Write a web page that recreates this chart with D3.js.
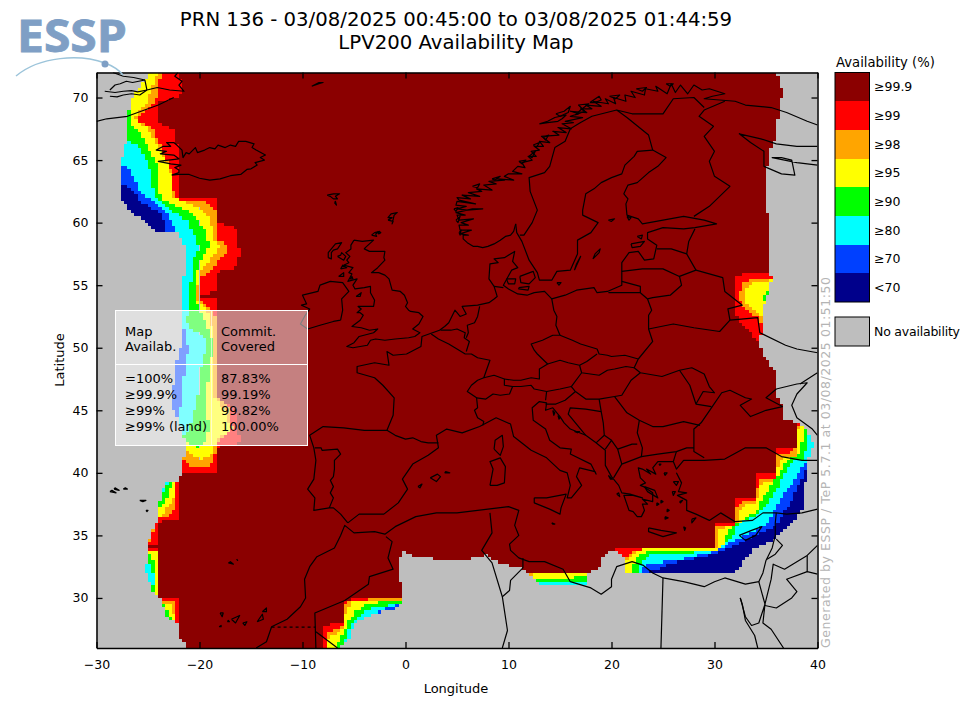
<!DOCTYPE html>
<html lang="en">

<head>
    <meta charset="UTF-8">
    <script src="https://d3js.org/d3.v7.min.js"></script>
    <title>LPV200 Availability Map</title>
    <style>
        html, body { margin: 0; padding: 0; background: #fff; }
        svg { display: block; font-family: "DejaVu Sans", Verdana, sans-serif; }
    </style>
</head>

<body>
    <svg class="map"></svg>
    <script>
        var lonTicks = [-30, -20, -10, 0, 10, 20, 30, 40];
        var latTicks = [30, 35, 40, 45, 50, 55, 60, 65, 70];
        var legendLabels = ["≥99.9", "≥99", "≥98", "≥95", "≥90", "≥80", "≥70", "<70"];
        var legendColors = ["#8b0000", "#ff0000", "#ffa500", "#ffff00", "#00ff00", "#00ffff", "#0040ff", "#00008b"];
        var panelRows = ["=100%", "≥99.9%", "≥99%", "≥99% (land)"];
        var panelValues = ["87.83%", "99.19%", "99.82%", "100.00%"];

        function west(edge) {
            return edge.concat([[-30, edge[edge.length - 1][1]], [-30, edge[0][1]]]);
        }

        // area with any availability at all, everything else stays grey
        var coverage = [[-24.8, 72], [-26.5, 70], [-27, 68.5], [-27, 66.6], [-27.5, 65.3], [-27.8, 62.9], [-27.5, 61.8], [-26.7, 60.9], [-25.5, 60.2], [-24, 59.2], [-22.2, 59.2], [-21.4, 58.1], [-21.5, 55.7], [-21.6, 53], [-21.5, 51.2], [-22.2, 48.8], [-22.5, 46.9], [-22.5, 45], [-21.6, 43.4], [-21.4, 42.1], [-21.6, 40.5], [-21.7, 40.1], [-22.2, 39.2], [-23.3, 39.2], [-23.8, 38.1], [-24, 36.2], [-24.1, 36.1], [-24.8, 34.9], [-25.1, 34], [-25.2, 32], [-24.5, 30.6], [-23.8, 30], [-23, 28.2], [-22, 28.1], [-21.9, 26.9], [-21.2, 26], [-6.6, 26], [-5.6, 26.6], [-5.1, 27.6], [-4.6, 28.2], [-2.7, 28.8], [-1.3, 29], [-0.7, 29.4], [-0.2, 29.9], [-0.2, 30.8], [-0.6, 31.4], [-0.8, 33], [-0.1, 33.7], [1.1, 33.2], [3.3, 33.1], [6.3, 33.1], [7.9, 33.4], [8.5, 33], [10.1, 32.6], [11.3, 32.4], [12.3, 31.7], [13.1, 31.1], [17.6, 31.1], [17.7, 32.1], [18.7, 32.2], [19.1, 33.3], [20.1, 33.8], [21.3, 33.3], [21.4, 32.9], [21.4, 32], [32, 32], [33.9, 34], [35.6, 34.6], [38.5, 36.9], [39.1, 41], [39.6, 42.4], [39, 43.4], [38.1, 44.1], [36.7, 44.2], [36.6, 45.3], [36.2, 45.6], [35.9, 48.1], [34.7, 49.4], [34.4, 50.2], [34.6, 51.7], [34.7, 53.2], [35.2, 54.4], [35.6, 55.4], [35.4, 56], [35.3, 59.2], [35.1, 61.6], [35.1, 64.2], [35.4, 66], [35.9, 66.6], [36.2, 68.5], [36.6, 70.4], [36.1, 72]];

        var band99 = [
            west([[-22.1, 72], [-21.5, 70.6], [-21.5, 70.2], [-24, 69.7], [-24, 68], [-22.3, 67.4], [-22.1, 65.8], [-22.1, 61.9], [-18.2, 61.9], [-18.2, 60], [-16.4, 59.6], [-16.1, 57.6], [-16.4, 56.4], [-18.2, 56.1], [-18.2, 54.5], [-20.1, 54.2], [-20.1, 54], [-18.5, 53.9], [-18.2, 53], [-18.2, 46], [-16.4, 45], [-16.1, 42.4], [-18.2, 42.1], [-18.2, 40.1], [-21.7, 40.1]]),
            west([[-22.1, 39.2], [-22.1, 36.2], [-24.1, 36.1], [-24.1, 34.2]]),
            west([[-24.1, 33.9], [-24.1, 33.7]]),
            west([[-23.8, 29.9], [-22.1, 29.9], [-22.1, 28.2], [-22, 28]]),
            [[-7.9, 26], [-7.9, 27.8], [-6, 28], [-6, 29.6], [-5.4, 29.9], [-0.2, 30], [1, 30], [1, 26]],
            [[20, 33.7], [20.2, 33.9], [30, 33.9], [30, 35.9], [32, 35.9], [32, 37.9], [33.9, 37.9], [33.9, 39.9], [36.1, 39.9], [36.1, 41.9], [38, 41.9], [38, 44.2], [38.5, 44.2], [40, 44.2], [40, 26], [20, 26]],
            [[35.4, 55.9], [32.7, 55.9], [32.1, 55.6], [32, 53.2], [32.2, 52.4], [33, 51.6], [33.5, 51.2], [34.2, 50.4], [34.6, 49.7], [40, 49.7], [40, 55.9]]
        ];

        var band98 = [
            west([[-23.4, 72], [-24, 71.3], [-24.2, 69.8], [-26.1, 68.2], [-25.2, 67.8], [-24.5, 67.6], [-24.1, 66.6], [-22.9, 64.6], [-22.4, 61.9], [-20.2, 61.8], [-19.3, 61.7], [-18.5, 61], [-18.2, 58.6], [-17.2, 58], [-17.2, 57.7], [-18.2, 56.9], [-19, 56], [-20, 55.7], [-20.1, 54.4], [-20.1, 54], [-19.3, 53.4], [-18.7, 52.8], [-18.3, 52.2], [-18.3, 48.8], [-18.3, 46], [-17, 45], [-16.8, 43.4], [-18.2, 42.4], [-18.3, 42.1], [-18.7, 40.8], [-19.2, 40.5], [-20.9, 40.5], [-21.4, 41]]),
            west([[-22.2, 39.2], [-22.2, 38.1], [-22.3, 37], [-23.1, 36.5], [-24, 36.5]]),
            west([[-24.3, 35.7], [-24.5, 35.3], [-24.8, 34.6]]),
            west([[-24.1, 33.8], [-24.1, 33.6]]),
            west([[-23.6, 29.8], [-22.4, 29.7], [-22.2, 28.4], [-22.2, 28.1]]),
            [[-7.8, 26], [-7.8, 27], [-7.6, 27.3], [-6.8, 27.4], [-5.9, 28], [-5.9, 29.4], [-5.6, 29.8], [-3, 29.9], [1, 29.9], [1, 26]],
            [[12.1, 31.9], [12.5, 31.9], [12.5, 31], [12.1, 31]],
            [[21.3, 33.2], [22, 33.7], [23.3, 33.9], [30.1, 33.9], [30.1, 35.7], [32, 35.8], [32.2, 37.4], [33, 37.8], [34.1, 37.8], [34.2, 39.4], [35.9, 39.6], [36.1, 41.4], [37.8, 41.7], [38, 43.6], [38.3, 44], [40, 44], [40, 26], [21.3, 26]],
            [[35.4, 55.6], [33.5, 55.5], [32.8, 55.2], [32.4, 54.4], [32.5, 53.7], [33.3, 52.9], [34.2, 52.4], [34.6, 51.7], [40, 51.7], [40, 55.6]]
        ];

        var band95 = [
            west([[-24.1, 72], [-24.5, 71], [-25.1, 69.6], [-26.3, 68.5], [-26.1, 68.1], [-25, 67.6], [-24.3, 66.4], [-22.9, 64.5], [-22.6, 62], [-21.2, 61.6], [-20, 61.2], [-19, 60.4], [-18.6, 58.6], [-18, 58.2], [-19, 57], [-20, 56.1], [-20.2, 54.9], [-20.6, 54.2], [-20.2, 53.7], [-19.3, 53], [-18.8, 51.7], [-18.7, 48.8], [-18.5, 46.1], [-17.5, 45], [-17, 43.4], [-18.3, 42.6], [-18.8, 41.6], [-19.7, 41], [-20.6, 41.3], [-21.4, 41.8]]),
            west([[-22.3, 39.2], [-22.4, 38.2], [-22.9, 37.4], [-23.5, 36.8], [-24, 36.5]]),
            west([[-24.1, 33.7], [-24, 30]]),
            west([[-23.6, 29.6], [-23, 29.6], [-22.6, 29.2], [-22.4, 28.2]]),
            [[-7.7, 26], [-7.7, 26.6], [-7.3, 26.9], [-6.8, 27], [-6.1, 27.6], [-5.8, 29], [-5.2, 29.7], [-2.2, 29.8], [1, 29.8], [1, 26]],
            [[12.4, 31.9], [17.7, 31.9], [17.7, 30], [12.4, 30]],
            [[21.3, 32.8], [21.8, 33.3], [22.3, 33.6], [23.1, 33.9], [30.2, 33.9], [30.2, 35.3], [30.7, 35.6], [32.3, 35.8], [32.3, 36.9], [33, 37.4], [34.1, 37.6], [34.4, 39.1], [35.9, 39.4], [36.2, 40.6], [36.7, 41.2], [38, 41.4], [38.1, 42.6], [38.2, 44], [40, 44], [40, 26], [21.3, 26]],
            [[35.6, 55.4], [33.9, 55.2], [33, 54.5], [32.9, 53.8], [33.6, 53.3], [34.4, 52.6], [34.7, 52.1], [40, 52.1], [40, 55.4]]
        ];

        var band90 = [
            west([[-26.5, 69.2], [-26.6, 67.8], [-25.6, 67], [-24.8, 65.8], [-24.1, 64.6], [-23.8, 62], [-23.2, 61.7], [-21.2, 61], [-20.2, 60.2], [-19.3, 59.2], [-19.1, 58.1], [-19.7, 57.3], [-20.2, 56.2], [-20.4, 54.4], [-20, 52.9], [-19.2, 51.7], [-18.5, 49.8], [-19, 48.8], [-19.3, 46.1], [-19.2, 44.2], [-18.8, 44], [-19.5, 42.4], [-20.2, 42.1], [-20.9, 42.2], [-21.4, 42.6]]),
            west([[-22.5, 39.2], [-23.1, 38.2], [-23.6, 37.3], [-23.9, 37.2]]),
            west([[-25.2, 33.5], [-24.6, 33.3], [-24.2, 32.6], [-24.2, 30.6]]),
            west([[-23.5, 29.4], [-23.1, 28.9], [-22.6, 28.2]]),
            [[-6.5, 26], [-6.6, 26.4], [-5.9, 27.2], [-5.7, 28], [-4.9, 28.9], [-3.9, 29.4], [-2.2, 29.7], [-0.3, 29.8], [1, 29.8], [1, 26]],
            [[12.5, 31.6], [16.3, 31.6], [16.3, 31.76], [17.7, 31.76], [17.7, 30], [12.5, 30]],
            [[22, 32], [22, 32.6], [22.5, 33.2], [23.1, 33.6], [23.7, 33.7], [28.6, 33.8], [30.7, 33.9], [31, 34.9], [31.7, 35.6], [33.2, 36.5], [34.1, 37], [34.7, 38], [35.4, 38.8], [36.4, 40.2], [37, 41], [38.1, 41.4], [38.5, 42.4], [38.5, 43.6], [40, 43.6], [40, 26], [22, 26]],
            [[34.4, 54], [34.9, 54.4], [35.3, 54.4], [35.1, 53.8], [34.7, 53.7]]
        ];

        var band80 = [
            west([[-27, 66.6], [-26, 66.1], [-25, 64.8], [-24.3, 62.1], [-22.9, 61], [-21.2, 60.2], [-20.2, 58.6], [-20.1, 57.8], [-20.7, 56.8], [-20.9, 54.4], [-20.9, 53], [-21.3, 52.2], [-20.9, 51.4], [-19.7, 51], [-19.2, 50.1], [-19.8, 48.8], [-20.2, 46.1], [-20.6, 44.5], [-21.2, 43.2], [-21.6, 42.9]]),
            west([[-22.9, 39.2], [-23.5, 38.5], [-23.8, 38.1]]),
            west([[-25.2, 33], [-24.8, 32.6], [-24.4, 31.8], [-24.4, 30.9]]),
            [[-5.9, 26], [-5.9, 26.6], [-5.7, 27.2], [-5.1, 28.1], [-4.4, 28.6], [-3.2, 29.2], [-0.7, 29.5], [1, 29.5], [1, 26]],
            [[12.5, 31.35], [17.7, 31.35], [17.7, 30], [12.5, 30]],
            [[22.5, 32], [22.5, 32.6], [23, 33], [23.7, 33.4], [25.7, 33.4], [28.6, 33.7], [30.2, 33.8], [31, 34.4], [31.7, 34.9], [32, 35.2], [32.3, 36], [33.5, 36.4], [34.4, 36.8], [35.4, 37.8], [36.2, 38.9], [37, 40.2], [37.6, 40.9], [38.5, 41], [39, 42], [39, 43.3], [40, 43.3], [40, 26], [22.5, 26]]
        ];

        var band70 = [
            west([[-27.5, 64.6], [-26.6, 64], [-25.8, 62.4], [-24.5, 61.7], [-23.1, 60.8], [-22.2, 59.2]]),
            west([[-21.5, 51.4], [-21.1, 50.1], [-21.3, 48.6], [-21.7, 47], [-21.6, 45.8], [-21.9, 45], [-22.3, 44.2]]),
            west([[-25, 32.1], [-25, 31.6]]),
            [[-2.7, 29], [-1.3, 29.3], [-0.8, 29.5], [-0.8, 28.8], [-2.7, 28.6]],
            [[23, 32], [23.1, 32.5], [24, 32.8], [26.4, 33], [28.6, 33.4], [30.3, 33.8], [31.5, 34.4], [33, 35], [34.1, 35.4], [35.4, 36.2], [36.4, 38], [37.8, 39.4], [38.5, 40.6], [39.6, 41.2], [39.6, 42.6], [40, 42.6], [40, 26], [23, 26]]
        ];

        var bandLow = [
            west([[-27.8, 63.2], [-26.7, 62.8], [-25.8, 61.7], [-24.3, 61], [-23.3, 60.2], [-23.3, 59.2]]),
            [[23.3, 32], [26, 32.8], [28.6, 33.2], [30.2, 33.6], [32, 34.3], [34.1, 35], [36.1, 35.8], [37.6, 38], [39.1, 40.6], [40, 40.6], [40, 26], [23.3, 26]]
        ];

        var coastLines = [
            // Greenland
            [[-30, 68.1], [-29, 68.3], [-28, 68.4], [-27, 68.5], [-26, 68.8], [-25, 69.1], [-24, 69.4], [-23, 69.8], [-22.5, 70]],
            [[-22.1, 72], [-22.4, 71.7], [-21.7, 71.3], [-22, 71], [-21.5, 70.5], [-22.9, 70.6], [-24.1, 70.8], [-25.1, 70.6], [-25.8, 70.2], [-26.6, 70.3], [-27.4, 70.2], [-28, 70.05], [-28.7, 70.1]],
            [[-25.1, 70.6], [-26, 70.45], [-26.6, 70.55], [-27.4, 70.5], [-28.2, 70.4], [-29.2, 70.5]],
            [[-25.1, 70.6], [-25.3, 71.4], [-26.5, 71.2], [-27.1, 71.3], [-27.7, 71.1], [-28.2, 71], [-28.7, 70.6]],
            [[-28.4, 72], [-27.4, 71.7], [-26.4, 71.6], [-25.3, 71.4]],
            // Iceland
            [[-22.7, 63.8], [-22, 63.85], [-21, 63.85], [-20, 63.55], [-19, 63.4], [-18, 63.5], [-17, 63.75], [-16, 63.85], [-15.4, 64.25], [-15, 64.3], [-14.4, 64.6], [-14.6, 64.8], [-13.7, 65], [-14.1, 65.2], [-13.6, 65.4], [-14.5, 65.8], [-14.9, 66], [-14.7, 66.3], [-15.5, 66.5], [-16.2, 66.5], [-16.5, 66.1], [-17, 66.2], [-17.5, 66], [-18.2, 66.2], [-18.5, 65.9], [-19, 66], [-19.5, 65.8], [-20.2, 65.6], [-20.4, 66], [-21, 65.5], [-21.3, 65.6], [-21.6, 65.2], [-21.7, 65.8], [-22.2, 66.2], [-22.5, 66.4], [-23.2, 66.4], [-22.8, 66.1], [-23.5, 66.1], [-24.2, 65.8], [-23.2, 65.7], [-23.8, 65.5], [-22.5, 65.4], [-22, 65.1], [-23, 65], [-24, 64.9], [-22.8, 64.7], [-21.8, 64.6], [-22.4, 64.4], [-22, 64.2], [-22, 64], [-22.7, 63.8]],
            // small northern islands
            [[-9.1, 70.9], [-8.4, 71.1], [-8, 71.2], [-8.4, 71.2], [-9.1, 70.9]],
            [[-7.6, 62.2], [-7, 62.3], [-6.4, 62.3], [-6.8, 62.1], [-6.6, 61.9], [-7, 61.9], [-7.3, 62.1], [-7.6, 62.2]],
            [[-6.9, 61.6], [-6.7, 61.4], [-6.8, 61.7], [-6.9, 61.6]],
            [[-1.7, 60.2], [-1.2, 60.1], [-1.3, 59.9], [-1.1, 60.6], [-0.8, 60.8], [-1.4, 60.7], [-1.7, 60.4], [-1.3, 60.4], [-1.7, 60.2]],
            [[-3.3, 59], [-2.8, 58.9], [-2.9, 59.1], [-2.5, 59.3], [-3, 59.2], [-3.3, 59]],
            [[-2.7, 59.3], [-2.4, 59.2], [-2.6, 59.1], [-2.7, 59.3]],
            [[-7.5, 57.2], [-7.2, 57.1], [-7.2, 57.6], [-7, 57.8], [-6.6, 57.9], [-6.2, 58.4], [-6.8, 58.3], [-7.2, 57.9], [-7.5, 57.6], [-7.5, 57.2]],
            [[-6.6, 57.3], [-6.2, 57.1], [-6, 57], [-5.8, 57.3], [-6.2, 57.6], [-6.3, 57.4], [-6.6, 57.3]],
            [[-6.3, 56.3], [-5.7, 56.4], [-6.1, 56.6], [-6.3, 56.3]],
            [[-6.5, 55.7], [-6, 55.7], [-6, 56], [-6.5, 55.7]],
            [[-5.4, 55.5], [-5.1, 55.5], [-5.2, 55.7], [-5.4, 55.5]],
            // Britain
            [[-5, 58.6], [-4.2, 58.5], [-3.1, 58.6], [-3.9, 58], [-4, 57.9], [-3.5, 57.7], [-2.8, 57.7], [-2, 57.7], [-2.1, 57.2], [-2, 57], [-2.7, 56.4], [-3.3, 56], [-2.6, 56], [-2, 55.8], [-1.6, 55.5], [-1.5, 55.2], [-1.3, 54.6], [-0.5, 54.5], [-0.1, 54.2], [0.2, 53.6], [0, 53.3], [0.3, 53], [0.5, 52.9], [1.3, 52.8], [1.7, 52.5], [1.3, 51.9], [0.7, 51.5], [1.4, 51.2], [0.9, 50.9], [0.3, 50.8], [-1, 50.7], [-2, 50.6], [-2.9, 50.7], [-3.4, 50.6], [-3.7, 50.2], [-5.1, 50], [-5.7, 50.1], [-5, 50.4], [-4.5, 50.9], [-3.1, 51.2], [-2.7, 51.5], [-3.5, 51.4], [-4.3, 51.6], [-5.2, 51.7], [-4.4, 52.2], [-4.1, 52.6], [-4.4, 52.8], [-4.7, 52.8], [-4.3, 53.1], [-4.6, 53.3], [-4.1, 53.3], [-3.1, 53.3], [-3, 53.8], [-3.4, 54.4], [-3.4, 54.9], [-4, 54.8], [-4.9, 54.7], [-5.1, 55], [-4.7, 55.5], [-5.6, 55.3], [-5.2, 55.9], [-5.5, 56], [-5.1, 56.4], [-6, 56.6], [-5.5, 56.8], [-5.7, 57], [-5.4, 57.3], [-5.8, 57.6], [-5.3, 57.9], [-5.3, 58.2], [-5, 58.6]],
            [[-4.8, 54.1], [-4.3, 54.4], [-4.4, 54.1], [-4.8, 54.1]],
            // Ireland
            [[-6.3, 52.2], [-6.1, 53], [-6.2, 53.9], [-5.5, 54.5], [-6.1, 55.2], [-7.3, 55.3], [-8.3, 55], [-8.5, 54.5], [-10, 54.2], [-9.6, 53.5], [-10.1, 53.4], [-9.3, 53.1], [-9.8, 52.5], [-10.2, 51.9], [-9.5, 51.5], [-8.3, 51.8], [-7, 52.1], [-6.3, 52.2]],
            // Atlantic, North Sea and Baltic side of the continent
            [[-5.6, 36], [-6.3, 36.7], [-7, 37.2], [-7.4, 37.2], [-8.9, 37], [-8.8, 38], [-9.5, 38.7], [-8.9, 39.5], [-8.7, 41], [-8.9, 42], [-9.3, 43], [-8, 43.7], [-6, 43.6], [-4, 43.4], [-1.8, 43.4], [-1.2, 44.6], [-1.1, 46], [-2.2, 47], [-3, 47.6], [-4.7, 48], [-4.7, 48.5], [-3, 48.8], [-1.6, 48.6], [-1.8, 49.7], [-1.2, 49.4], [0.1, 49.5], [1.5, 50.1], [1.6, 50.9], [3.3, 51.4], [3.8, 51.7], [4.2, 52], [4.8, 53], [5.3, 52.5], [5.9, 52.7], [5.5, 53.3], [7, 53.4], [8.1, 53.6], [8.6, 53.9], [8.9, 54.1], [8.6, 54.9], [8.1, 55.5], [8.2, 56.7], [9, 56.8], [8.6, 57.1], [9.6, 57.2], [10.6, 57.7], [10.4, 56.9], [10.9, 56.4], [10.3, 56.2], [9.9, 55.6], [9.5, 55], [10, 54.7], [10.9, 54.3], [11.8, 54.2], [12.5, 54.4], [13.5, 54.5], [14.2, 53.9], [15.5, 54.2], [16.6, 54.6], [18.3, 54.8], [18.6, 54.4], [19.6, 54.5], [21, 55], [21, 56], [21, 56.8], [21.7, 57.6], [22.6, 57.7], [23.2, 57], [24.1, 57.1], [24.4, 58.2], [23.5, 58.7], [23.5, 59.2], [25, 59.6], [27, 59.5], [28.1, 59.6], [30.2, 59.9], [29, 60.2], [27, 60.5], [25, 60.2], [23, 59.9], [22.6, 60.3], [21.5, 60.6], [21.4, 61.5], [21.6, 61.9], [21.2, 62.3], [21.6, 63], [22.5, 63.2], [23.6, 64], [24.5, 64.5], [25.3, 65.2], [24, 65.8], [22.5, 65.7], [22.2, 65.3], [21.3, 64.6], [21, 63.9], [20, 63.6], [19, 63.2], [18.3, 62.7], [17.5, 62.3], [17.2, 61], [17.2, 60.6], [18.7, 60], [18, 59.2], [16.7, 58.6], [16.7, 57.5], [16, 56.2], [14.7, 56.1], [14.2, 55.4], [13, 55.4], [12.8, 56], [12, 57], [11.3, 58.5], [10.8, 59.2], [10.7, 59.9]],
            // Norway and Kola, fjords included
            [[10.7, 59.9], [10.5, 59.3], [10.2, 59], [9.7, 58.9], [9.2, 58.6], [8.6, 58.3], [8, 58.1], [7.5, 58], [7, 58.1], [6.6, 58.1], [6, 58.4], [5.6, 58.7], [5.6, 59], [6.1, 59], [5.3, 59.1], [6.4, 59.4], [5.3, 59.4], [5.2, 59.8], [6.1, 59.8], [5.4, 60], [6.6, 60.3], [5.2, 60.2], [5, 60.6], [5.8, 60.6], [4.9, 60.8], [6.5, 61.1], [7.5, 61.1], [6, 61], [5, 61.1], [5.9, 61.3], [4.9, 61.4], [5, 61.7], [6.8, 61.5], [5.2, 61.8], [5, 62], [6.3, 61.9], [5.5, 62.2], [7.2, 62.1], [6.1, 62.4], [7.4, 62.5], [6.9, 62.7], [8.4, 62.6], [7.6, 63], [8.8, 63.1], [8.1, 63.3], [9.6, 63.4], [8.9, 63.5], [10.5, 63.4], [9.6, 63.7], [10, 63.9], [11.3, 63.9], [10.4, 64.1], [10.9, 64.5], [11.6, 64.4], [11.3, 64.8], [12.3, 65], [11.9, 65.3], [12.7, 65.3], [12.2, 65.7], [13, 65.8], [12.5, 66.1], [13.4, 66.1], [13, 66.5], [14, 66.4], [13.2, 66.9], [14.9, 67], [14.3, 67.3], [15.6, 67.2], [14.8, 67.6], [16.1, 67.5], [15.2, 67.9], [16.3, 68], [15.5, 68.1], [17.2, 68.4], [16, 68.5], [16.8, 68.7], [16, 68.9], [17.6, 68.8], [17, 69.1], [18.1, 69.1], [17.5, 69.4], [19, 69.3], [18.2, 69.7], [19.7, 69.5], [19.4, 69.9], [20.4, 69.5], [20.2, 70], [21.4, 69.7], [21.3, 70.2], [22.3, 70], [21.9, 70.5], [23.2, 70.2], [23.3, 70.7], [24.5, 70.5], [24.3, 70.9], [25.4, 70.3], [25.8, 71.1], [26.2, 70.4], [26.7, 71], [27.4, 70.3], [28, 71], [28.8, 70.6], [29.5, 70.7], [31, 70.3], [29.8, 70.1], [29, 69.9], [30.5, 69.8], [32, 69.7], [33, 69.4], [35.5, 69.2], [37, 68.8], [39, 68.1], [40, 67.8]],
            // Norwegian islands
            [[13, 67.9], [13.8, 68.1], [14.5, 68.4], [15.6, 68.6], [15.2, 68.3], [14.8, 68.1], [13.8, 68], [13, 67.9]],
            [[14.6, 68.7], [15.4, 68.9], [16, 69.3], [15.8, 68.8], [15, 68.5], [14.6, 68.7]],
            [[16.5, 68.6], [17.4, 68.9], [16.8, 69.4], [17.8, 69.5], [17, 69], [16.5, 68.6]],
            [[17.9, 69.6], [18.8, 70.1], [19, 69.8], [18.4, 69.6], [17.9, 69.6]],
            [[19.8, 70.1], [20.8, 70.2], [20.4, 69.9], [19.8, 70.1]],
            [[22.4, 70.7], [23.4, 70.8], [23, 70.5], [22.4, 70.7]],
            [[25.3, 71.1], [26, 71.1], [25.7, 70.9], [25.3, 71.1]],
            [[8.4, 63.5], [9.2, 63.7], [8.7, 63.4], [8.4, 63.5]],
            [[11, 64.9], [11.7, 65], [11.3, 64.7], [11, 64.9]],
            [[12, 65.3], [12.6, 65.7], [12.3, 65.2], [12, 65.3]],
            [[12.4, 66.2], [13, 66.4], [12.7, 66], [12.4, 66.2]],
            [[13.4, 66.8], [13.9, 67], [13.6, 66.6], [13.4, 66.8]],
            [[6.5, 62.9], [7.2, 63.1], [7, 62.8], [6.5, 62.9]],
            [[4.9, 60.2], [5.3, 60.5], [5.1, 60], [4.9, 60.2]],
            [[5.2, 59.2], [5.4, 59.4], [5.3, 59], [5.2, 59.2]],
            [[4.7, 61.1], [5.1, 61.2], [4.9, 60.9], [4.7, 61.1]],
            // White Sea
            [[40, 66.1], [38, 66.1], [36, 66.3], [34.5, 66.7], [32.4, 67.1], [33.5, 66.4], [34.8, 65.7], [34.8, 64.5], [36.5, 63.9], [37.8, 63.8], [37.5, 65], [36.5, 65.2], [35.6, 65.2], [38, 64.8], [40, 64.6]],
            // Mediterranean north shore
            [[-5.6, 36], [-4.5, 36.7], [-2.1, 36.7], [-0.7, 37.6], [0.2, 38.7], [-0.3, 39.5], [0.7, 40.7], [2.2, 41.4], [3.2, 42], [3, 43], [4, 43.5], [5.5, 43.2], [7.2, 43.7], [8.8, 44.4], [10.2, 43.9], [10.5, 42.9], [12.2, 41.8], [13.7, 41.2], [15, 40.2], [15.7, 40], [16, 39], [15.7, 38], [16.1, 38], [17.1, 39], [16.6, 39.7], [16.9, 40.4], [18.4, 40.1], [18.5, 39.9], [18, 40.7], [16, 41.5], [16.1, 41.9], [15, 42], [14, 42.6], [13.6, 43.5], [12.4, 44.2], [12.3, 45.2], [13, 45.7], [13.7, 45.6], [13.6, 45], [14.3, 45.2], [14.9, 44.6], [15, 44.5], [15.4, 44], [16, 43.5], [16.9, 43.2], [17.5, 43], [18.5, 42.4], [19.4, 41.8], [19.4, 40.6], [20, 39.7], [20.7, 39], [21, 38.4], [21.8, 38.3], [23, 38], [22.1, 38.2], [21.2, 38.2], [21.7, 37], [22.1, 36.9], [22.5, 36.5], [22.9, 36.5], [23.2, 37], [23, 37.5], [23.5, 37.5], [23, 37.9], [24, 37.7], [24, 38.4], [23.1, 38.9], [22.8, 39], [23.3, 39.2], [22.8, 39.6], [22.6, 40.4], [23, 40.3], [23.8, 39.9], [23.4, 40.3], [24.3, 39.9], [24, 40.4], [24.5, 40.9], [26, 40.9], [26.3, 40.3], [27, 41], [29, 41], [31, 41.1], [33, 42], [35, 42], [36.5, 41.3], [38.5, 41], [40, 41]],
            // Black Sea
            [[29, 41.2], [28, 41.7], [28, 42.5], [28, 43.5], [28.7, 44], [29.7, 45.2], [30.7, 46.4], [31.5, 46.6], [33, 46], [33.6, 45.9], [32.5, 45.4], [33.5, 44.5], [35, 45], [36.6, 45.3], [35, 46], [36, 46.7], [38, 47.1], [39, 47.2], [38, 46.3], [37.5, 45.4], [38, 44.4], [39.5, 43.5], [40, 43]],
            // Turkey south, Levant and North Africa down to the Sahara
            [[26.3, 40], [26.8, 39.2], [26.5, 38.5], [27.3, 38.4], [26.4, 38.2], [27.3, 37.8], [27.3, 37], [28.2, 36.7], [29.5, 36.2], [30.6, 36.8], [32, 36.1], [33.7, 36.2], [34.7, 36.8], [36, 36.8], [35.9, 36], [35.9, 35], [35.6, 34], [35, 33], [34.7, 32], [34.3, 31.3], [33, 31.1], [32.2, 31.3], [31, 31.6], [30, 31.3], [29, 30.9], [27, 31.3], [25, 31.6], [24, 32], [23.1, 32.6], [22, 32.9], [20.5, 32.5], [20, 31.5], [20, 30.9], [19, 30.3], [18, 30.8], [16, 31.3], [15.3, 32.3], [13.5, 32.9], [12, 32.9], [11, 33.2], [10.2, 33.8], [10.1, 34.3], [11, 35], [10.6, 35.8], [11, 37], [10, 37.3], [9, 37.2], [7, 37], [5, 36.8], [3, 36.8], [1, 36.5], [-1, 35.7], [-2, 35.1], [-3, 35.3], [-5, 35.2], [-5.9, 35.8], [-6.3, 35], [-6.9, 34], [-8.6, 33.3], [-9.3, 32.5], [-9.8, 31.5], [-9.7, 30], [-10.2, 29.3], [-11.5, 28.3], [-13, 27.7], [-13.5, 26.5], [-14.5, 26]],
            // Red Sea
            [[32.5, 30], [32.7, 29.5], [33, 28.2], [33.9, 27], [34.2, 26]],
            [[32.5, 30], [33, 28.5], [33.6, 27.8], [34.3, 28], [34.9, 29.5], [34.7, 28], [35.5, 27.5], [36.7, 26]],
            // Mediterranean islands
            [[8.2, 39], [8.9, 39], [9.6, 39.2], [9.7, 40.5], [9.2, 41.2], [8.2, 40.9], [8.5, 40.3], [8.2, 39]],
            [[8.6, 41.9], [9.2, 41.4], [9.5, 42.1], [9.4, 43], [8.7, 42.6], [8.6, 41.9]],
            [[12.5, 38], [13.7, 38], [15.6, 38.3], [15.1, 37.2], [15, 36.7], [14, 37.1], [12.5, 37.6], [12.5, 38]],
            [[23.6, 35.6], [24.8, 35.4], [26.3, 35.2], [25, 34.9], [23.6, 35.3], [23.6, 35.6]],
            [[32.4, 35], [33.6, 35.4], [34.6, 35.7], [34, 35], [33, 34.6], [32.4, 35]],
            [[2.4, 39.6], [3.1, 39.9], [3.4, 39.7], [3, 39.3], [2.4, 39.6]],
            [[3.8, 40], [4.3, 40], [3.9, 40.1], [3.8, 40]],
            [[1.2, 38.9], [1.6, 39.1], [1.4, 38.8], [1.2, 38.9]],
            [[14.2, 36], [14.5, 35.9], [14.3, 35.9], [14.2, 36]],
            [[20.5, 38.3], [20.8, 38.1], [20.7, 38.4], [20.5, 38.3]],
            [[19.7, 39.8], [20.1, 39.5], [19.9, 39.5], [19.7, 39.8]],
            [[23.2, 38.9], [24.2, 38.6], [24.5, 38], [23.5, 38.5], [23.2, 38.9]],
            [[26, 39.3], [26.5, 39.3], [26.3, 39], [26, 39.3]],
            [[25.9, 38.5], [26.2, 38.5], [26, 38.2], [25.9, 38.5]],
            [[26.6, 37.7], [26.9, 37.8], [26.7, 37.6], [26.6, 37.7]],
            [[27.8, 36.3], [28.2, 36.4], [27.8, 36], [27.8, 36.3]],
            [[27, 35.7], [27.2, 35.6], [27.1, 35.4], [27, 35.7]],
            [[25.4, 37.1], [25.6, 37], [25.4, 36.9], [25.4, 37.1]],
            [[24.8, 37.8], [25, 37.7], [24.8, 37.6], [24.8, 37.8]],
            [[25.2, 36.5], [25.5, 36.4], [25.2, 36.3], [25.2, 36.5]],
            [[24.4, 37.6], [24.6, 37.5], [24.4, 37.4], [24.4, 37.6]],
            [[25.1, 40], [25.4, 40], [25.2, 39.8], [25.1, 40]],
            [[24.6, 40.7], [24.8, 40.7], [24.7, 40.6], [24.6, 40.7]],
            [[14.3, 45], [14.5, 44.8], [14.4, 44.6], [14.3, 45]],
            [[14.8, 44.6], [15, 44.4], [14.9, 44.3], [14.8, 44.6]],
            [[16.4, 43.3], [16.9, 43.3], [16.7, 43.2], [16.4, 43.3]],
            // Baltic islands
            [[18.2, 57.1], [18.8, 57.6], [18.9, 57.9], [18.4, 57.5], [18.2, 57.1]],
            [[16.4, 56.2], [17, 57.3], [16.6, 56.7], [16.4, 56.2]],
            [[21.9, 58.3], [23.2, 58.5], [22.8, 58.1], [22, 58], [21.9, 58.3]],
            [[22.5, 58.9], [23, 59], [22.9, 58.7], [22.5, 58.9]],
            [[19.7, 60.2], [20.3, 60.3], [20, 60.1], [19.7, 60.2]],
            [[21.5, 60.5], [21.9, 60.4], [21.7, 60.2], [21.5, 60.5]],
            [[11.1, 55.7], [12.4, 56.1], [12.6, 55.6], [12, 55.1], [11.2, 55.2], [11.1, 55.7]],
            [[9.8, 55.5], [10.7, 55.5], [10.6, 55.1], [10, 55.1], [9.8, 55.5]],
            [[11, 54.8], [12, 54.9], [11.9, 54.6], [11, 54.7], [11, 54.8]],
            [[14.7, 55.2], [15.1, 55.2], [14.9, 55], [14.7, 55.2]],
            // Atlantic islands
            [[-28.7, 38.5], [-28.1, 38.4], [-28.5, 38.6], [-28.7, 38.5]],
            [[-28.3, 38.7], [-27.8, 38.6], [-28.2, 38.8], [-28.3, 38.7]],
            [[-27.4, 38.7], [-27, 38.7], [-27.2, 38.8], [-27.4, 38.7]],
            [[-25.8, 37.8], [-25.2, 37.8], [-25.5, 37.7], [-25.8, 37.8]],
            [[-25.2, 37], [-25, 37], [-25.1, 36.9], [-25.2, 37]],
            [[-17.2, 32.8], [-16.7, 32.7], [-17, 32.9], [-17.2, 32.8]],
            [[-16.4, 33.1], [-16.3, 33], [-16.4, 33.1]],
            [[-18, 28.8], [-17.8, 28.5], [-17.7, 28.8], [-18, 28.8]],
            [[-17.3, 28.1], [-17.1, 28.1], [-17.2, 28.2], [-17.3, 28.1]],
            [[-18.1, 27.7], [-17.9, 27.8], [-17.9, 27.7], [-18.1, 27.7]],
            [[-16.9, 28.3], [-16.1, 28.6], [-16.5, 28], [-16.9, 28.3]],
            [[-15.8, 28], [-15.4, 28.1], [-15.6, 27.8], [-15.8, 28]],
            [[-14.4, 28.1], [-13.9, 28.7], [-13.8, 28.3], [-14.4, 28.1]],
            [[-13.9, 28.9], [-13.5, 29.2], [-13.5, 28.9], [-13.9, 28.9]]
        ];

        var borderLines = [
            [[-1.8, 43.4], [-1, 43], [0, 42.7], [0.7, 42.8], [1.5, 42.5], [2.2, 42.4], [3.2, 42.4]],
            [[-8.8, 42], [-8.2, 42], [-8.1, 41.8], [-6.6, 41.9], [-6.3, 41.5], [-6.9, 41], [-6.9, 40.3], [-7, 39.7], [-7.3, 39.4], [-7, 38.9], [-7.3, 38.4], [-7, 38], [-7.4, 37.2]],
            [[2.5, 51.1], [3.2, 50.7], [4.2, 50.3], [4.8, 50], [5.4, 49.7], [5.8, 49.5], [6.4, 49.5], [7, 49.2], [8.2, 49], [7.6, 47.6], [7, 47.4], [6.4, 47], [6, 46.5], [6.9, 46], [7, 45.2], [6.7, 45], [7, 44.4], [7.6, 44.1], [7.5, 43.8]],
            [[3.4, 51.4], [4.4, 51.4], [5, 51.5], [5.8, 51.2], [5.7, 50.8], [6.2, 50.5], [5.9, 49.7]],
            [[7.2, 53.3], [7, 52.5], [6.7, 52], [6, 51.8], [6.1, 51.2], [5.9, 50.8]],
            [[8.6, 54.9], [9.5, 54.8]],
            [[14.2, 53.9], [14.4, 53], [14.7, 52.5], [14.6, 51.8], [15, 51], [14.3, 51], [13.3, 50.6], [12.2, 50.3], [12.5, 49.8], [12.8, 49.5], [13.8, 48.7], [13, 48.3], [13, 47.5], [12.2, 47.6], [11.2, 47.4], [10.5, 47.4], [9.6, 47.5]],
            [[7.6, 47.6], [8.6, 47.8], [9.6, 47.5], [9.6, 47], [10.4, 46.9], [10.1, 46.3], [9.2, 46.2], [8.5, 46.3], [7.8, 45.9], [6.9, 46]],
            [[10.4, 46.9], [11.2, 46.9], [12.2, 47], [12.5, 46.7], [13.7, 46.5], [13.6, 45.8]],
            [[15, 51], [16.2, 50.6], [17, 50.3], [18.6, 49.9], [18.8, 49.5], [19.6, 49.4], [20, 49.3], [21.3, 49.4], [22.6, 49.1]],
            [[13.8, 48.7], [15, 49], [15.8, 48.8], [16.9, 48.6], [17.6, 48.9], [18.6, 49.5]],
            [[16.9, 48.6], [17.1, 48], [18.8, 47.8], [19.6, 48.2], [20.3, 48.3], [21.4, 48.5], [22.2, 48.4]],
            [[17.1, 48], [16.1, 46.9], [16.5, 46.5], [15.5, 45.8], [14.6, 45.5], [13.6, 45.5]],
            [[16.1, 46.9], [15, 46.7], [13.7, 46.5]],
            [[16.5, 46.5], [17.5, 45.9], [18.8, 45.9], [20.3, 46.1], [21, 46.2], [21.9, 47.4], [22.8, 48]],
            [[22.6, 49.1], [24, 50.5], [23.6, 51.5], [23.6, 52.6], [23.9, 53], [23.5, 53.9], [22.8, 54.4], [19.7, 54.4]],
            [[22.6, 49.1], [22.2, 48.4], [22.8, 48], [24.9, 47.7], [26.6, 48.2], [27.8, 48.4], [29, 47.9], [29.5, 46.9], [30, 46.4], [28.9, 46.5], [28.2, 45.5], [27.6, 47], [26.6, 48.2]],
            [[28.2, 45.5], [29.7, 45.3]],
            [[20.3, 46.1], [21.5, 44.8], [22.7, 44.2], [24, 43.7], [25, 43.7], [27, 44.1], [28.6, 43.8]],
            [[22.7, 44.2], [22.5, 43.2], [23, 42], [22.9, 41.3], [24.5, 41.5], [26.3, 41.7], [27.3, 42], [28, 42]],
            [[26.3, 41.7], [26, 40.9]],
            [[20.2, 39.6], [21, 40.7], [22.9, 41.3]],
            [[19.4, 41.9], [20, 42.6], [20.6, 41.9], [21, 40.7]],
            [[20.6, 41.9], [22, 42.3], [22.5, 42.3]],
            [[18.5, 42.4], [19.3, 43], [19.2, 44], [19, 44.9], [17.5, 45.1], [16, 45.2], [15.8, 44.7], [16.7, 43.8], [17.5, 43]],
            [[19.3, 43], [20, 42.6]],
            [[19, 44.9], [18.8, 45.9]],
            [[24.4, 57.9], [25.8, 57.9], [27.3, 57.5]],
            [[21, 56.1], [23, 56.3], [25, 56.3], [26.6, 55.7]],
            [[28.1, 59.5], [27.5, 58.5], [27.3, 57.5], [28.2, 56.2], [26.6, 55.7], [26.8, 55], [25.7, 54.2], [24, 54], [23.5, 53.9]],
            [[22.8, 54.4], [22.8, 54.9], [21, 55.3]],
            [[23.6, 51.5], [26, 51.9], [28, 51.6], [30.5, 51.3], [31.5, 52.2], [34.2, 52.4], [34.4, 51.2], [36.9, 50.2], [38, 49.9], [40, 49.6]],
            [[28.2, 56.2], [30.8, 55.6], [31, 54.5], [32.7, 53.4], [31.3, 53.1], [31.5, 52.2]],
            [[40, 48], [39.8, 47.9], [38.3, 47.1]],
            [[28, 60.5], [29.5, 61.3], [31.5, 62.9], [30, 63.7], [29.5, 64.9], [30, 65.7], [29, 66.9], [29.9, 67.7], [28.5, 68.5], [29, 69], [31, 69.7]],
            [[24, 65.8], [23.6, 67], [21.5, 68.4], [20.5, 69], [22, 68.7], [25, 68.7], [26, 69.9], [28, 70], [29, 69.2]],
            [[20.5, 69], [18.1, 68.5], [17, 68], [16, 67.5], [15.5, 66.5], [14.5, 66], [14, 64.5], [13.5, 64], [12, 63.6], [12.1, 62.5], [12.8, 61], [12.3, 60], [11.5, 59], [11.1, 59]],
            [[-1.9, 34.9], [-1.3, 34.5], [-1.7, 33.2], [-1.2, 32.3], [-3.5, 31.7], [-3.6, 31.1], [-5.9, 29.8], [-8.8, 28.8], [-8.7, 26]],
            [[-8.7, 27.3], [-6.6, 26]],
            [[8.2, 36.8], [8.4, 35.2], [7.4, 33.8], [8.4, 32.8], [9.4, 30.1], [9.9, 27.4], [9.4, 26]],
            [[11.4, 33.2], [11.4, 32.4], [10.2, 31.4], [10.1, 30.6], [9.4, 30.1]],
            [[25, 31.6], [24.8, 26]],
            [[34.3, 31.3], [34.9, 29.5], [35.5, 31.5], [35.7, 32.7], [36.8, 32.3], [39, 33.4], [40, 34.2]],
            [[36, 36.8], [37, 36.7], [38.5, 36.8], [40, 37.1]],
            [[34.9, 29.4], [36, 29.2], [37.5, 30], [38, 30.5], [37, 31.5], [39, 32.1], [40, 31.9]],
            [[39, 32.1], [39, 33.4]],
            [[35.1, 33.1], [35.9, 33.5], [36.6, 34.2], [36, 34.7]]
        ];

        // Western Sahara line is the only dashed one
        var dashedLines = [
            [[-13, 27.67], [-8.7, 27.67]]
        ];

        var svg = d3.select(".map")
            .attr("width", 960)
            .attr("height", 720);

        var x = d3.scaleLinear().domain([-30, 40]).range([96.5, 817.5]);
        var y = d3.scaleLinear().domain([26, 72]).range([648, 72.5]);

        var linePath = d3.line()
            .x(function(d) { return x(d[0]); })
            .y(function(d) { return y(d[1]); });

        svg.append("defs").append("clipPath").attr("id", "frame")
            .append("rect")
            .attr("x", x(-30))
            .attr("y", y(72))
            .attr("width", x(40) - x(-30))
            .attr("height", y(26) - y(72));

        // grey background
        svg.append("rect")
            .attr("x", x(-30))
            .attr("y", y(72))
            .attr("width", x(40) - x(-30))
            .attr("height", y(26) - y(72))
            .attr("fill", "#bebebe");

        // the map is a grid of cells, so the regions are sampled row by row
        var bands = [band99, band98, band95, band90, band80, band70, bandLow];
        var lonStep = 1 / 3;
        var latStep = 0.25;
        var cells = [];

        function cellLevel(lon, lat) {
            if (!d3.polygonContains(coverage, [lon, lat])) return -1;
            for (var b = bands.length - 1; b >= 0; b--) {
                for (var p = 0; p < bands[b].length; p++) {
                    if (d3.polygonContains(bands[b][p], [lon, lat])) return b + 1;
                }
            }
            return 0;
        }

        for (var row = 0; row < 46 / latStep; row++) {
            var lat = 26 + row * latStep;
            var run = null;
            for (var col = 0; col < 70 / lonStep; col++) {
                var lon = -30 + col * lonStep;
                var level = cellLevel(lon + lonStep / 2, lat + latStep / 2);
                if (run && run.level === level) {
                    run.lon1 = lon + lonStep;
                } else {
                    run = { level: level, lat: lat, lon0: lon, lon1: lon + lonStep };
                    if (level >= 0) cells.push(run);
                }
            }
        }

        svg.append("g")
            .attr("clip-path", "url(#frame)")
            .attr("shape-rendering", "crispEdges")
            .selectAll("rect")
            .data(cells)
            .enter()
            .append("rect")
            .attr("x", function(d) { return Math.round(x(d.lon0)); })
            .attr("y", function(d) { return Math.round(y(d.lat + latStep)); })
            .attr("width", function(d) { return Math.round(x(d.lon1)) - Math.round(x(d.lon0)); })
            .attr("height", function(d) { return Math.round(y(d.lat)) - Math.round(y(d.lat + latStep)); })
            .attr("fill", function(d) { return legendColors[d.level]; });

        // coasts and borders
        var mapGroup = svg.append("g")
            .attr("clip-path", "url(#frame)")
            .attr("fill", "none")
            .attr("stroke", "#000")
            .attr("stroke-width", 1.2)
            .attr("stroke-linejoin", "round");

        mapGroup.selectAll("path.coast")
            .data(coastLines.concat(borderLines))
            .enter()
            .append("path")
            .attr("class", "coast")
            .attr("d", linePath);

        mapGroup.selectAll("path.dash")
            .data(dashedLines)
            .enter()
            .append("path")
            .attr("class", "dash")
            .attr("stroke-dasharray", "3,3")
            .attr("d", linePath);

        // axes, ticks point into the map on all four sides
        var axes = [
            { axis: d3.axisBottom(x).tickValues(lonTicks).tickFormat(d3.format("d")), at: [0, y(26)], pad: 12 },
            { axis: d3.axisTop(x).tickValues(lonTicks).tickFormat(""), at: [0, y(72)], pad: 12 },
            { axis: d3.axisLeft(y).tickValues(latTicks).tickFormat(d3.format("d")), at: [x(-30), 0], pad: 8 },
            { axis: d3.axisRight(y).tickValues(latTicks).tickFormat(""), at: [x(40), 0], pad: 8 }
        ];

        axes.forEach(function(a) {
            var g = svg.append("g")
                .attr("transform", "translate(" + a.at[0] + "," + a.at[1] + ")")
                .call(a.axis.tickSizeInner(-6).tickSizeOuter(0).tickPadding(a.pad));
            g.selectAll("text")
                .attr("font-family", "DejaVu Sans")
                .attr("font-size", 12.5)
                .attr("fill", "#000");
            g.selectAll("line").attr("stroke", "#000").attr("stroke-width", 1.3);
            g.select(".domain").attr("stroke", "#000").attr("stroke-width", 1.5);
        });

        svg.append("text")
            .attr("x", 456)
            .attr("y", 692.5)
            .attr("text-anchor", "middle")
            .attr("font-size", 13)
            .text("Longitude");

        svg.append("text")
            .attr("transform", "translate(63.5,360) rotate(-90)")
            .attr("text-anchor", "middle")
            .attr("font-size", 13)
            .text("Latitude");

        // title
        svg.append("text")
            .attr("x", 456)
            .attr("y", 26)
            .attr("text-anchor", "middle")
            .attr("font-size", 19.7)
            .text("PRN 136 - 03/08/2025 00:45:00 to 03/08/2025 01:44:59");

        svg.append("text")
            .attr("x", 456)
            .attr("y", 49)
            .attr("text-anchor", "middle")
            .attr("font-size", 19.7)
            .text("LPV200 Availability Map");

        // legend
        var legendY = d3.scaleBand()
            .domain(legendLabels)
            .range([72.5, 302]);

        svg.append("text")
            .attr("x", 836)
            .attr("y", 67)
            .attr("font-size", 13.2)
            .text("Availability (%)");

        svg.selectAll("rect.legend")
            .data(legendLabels)
            .enter()
            .append("rect")
            .attr("class", "legend")
            .attr("x", 835)
            .attr("y", function(d) { return legendY(d); })
            .attr("width", 34.5)
            .attr("height", legendY.bandwidth())
            .attr("fill", function(d, i) { return legendColors[i]; })
            .attr("shape-rendering", "crispEdges");

        svg.append("rect")
            .attr("x", 835)
            .attr("y", 72.5)
            .attr("width", 34.5)
            .attr("height", 229.5)
            .attr("fill", "none")
            .attr("stroke", "#000");

        svg.selectAll("text.legend")
            .data(legendLabels)
            .enter()
            .append("text")
            .attr("class", "legend")
            .attr("x", 874)
            .attr("y", function(d) { return legendY(d) + legendY.bandwidth() / 2 + 4.5; })
            .attr("font-size", 12.5)
            .text(function(d) { return d; });

        svg.append("rect")
            .attr("x", 835)
            .attr("y", 317)
            .attr("width", 34.5)
            .attr("height", 29)
            .attr("fill", "#bebebe")
            .attr("stroke", "#000");

        svg.append("text")
            .attr("x", 874)
            .attr("y", 336)
            .attr("font-size", 12.5)
            .attr("textLength", 86)
            .text("No availability");

        // watermark along the right side
        svg.append("text")
            .attr("transform", "translate(830,648) rotate(-90)")
            .attr("font-size", 12.5)
            .attr("fill", "#b4b4b4")
            .attr("textLength", 371)
            .text("Generated by ESSP / TeP 5.7.1 at 03/08/2025 01:51:50");

        // statistics panel
        var panel = svg.append("g");

        panel.append("rect")
            .attr("x", 115.5)
            .attr("y", 310.5)
            .attr("width", 192)
            .attr("height", 135)
            .attr("fill", "#fff")
            .attr("fill-opacity", 0.5)
            .attr("stroke", "#fff");

        panel.append("line")
            .attr("x1", 115.5).attr("x2", 307.5)
            .attr("y1", 364.5).attr("y2", 364.5)
            .attr("stroke", "#fff");

        panel.append("line")
            .attr("x1", 211.5).attr("x2", 211.5)
            .attr("y1", 310.5).attr("y2", 445.5)
            .attr("stroke", "#fff")
            .attr("stroke-opacity", 0.6);

        [["Map", "Commit.", 336], ["Availab.", "Covered", 351]].forEach(function(row) {
            panel.append("text").attr("x", 125).attr("y", row[2]).attr("font-size", 13).text(row[0]);
            panel.append("text").attr("x", 221).attr("y", row[2]).attr("font-size", 13).text(row[1]);
        });

        panelRows.forEach(function(label, i) {
            panel.append("text").attr("x", 125).attr("y", 383 + i * 16).attr("font-size", 13).text(label);
            panel.append("text").attr("x", 221).attr("y", 383 + i * 16).attr("font-size", 13).text(panelValues[i]);
        });

        // ESSP logo
        var logo = svg.append("g");

        logo.append("path")
            .attr("d", "M16,76 C40,56 80,54 105,63 C113,66 119,70 123,75")
            .attr("fill", "none")
            .attr("stroke", "#9cc4da")
            .attr("stroke-width", 1.5);

        logo.append("circle")
            .attr("cx", 105)
            .attr("cy", 64)
            .attr("r", 3.5)
            .attr("fill", "#7f9fc5");

        logo.append("text")
            .attr("x", 17)
            .attr("y", 52)
            .attr("font-family", "Open Sans")
            .attr("font-weight", "bold")
            .attr("font-size", 44)
            .attr("fill", "#7f9fc5")
            .attr("stroke", "#7f9fc5")
            .attr("stroke-width", 0.8)
            .attr("textLength", 110)
            .attr("lengthAdjust", "spacingAndGlyphs")
            .text("ESSP");
    </script>
</body>

</html>
